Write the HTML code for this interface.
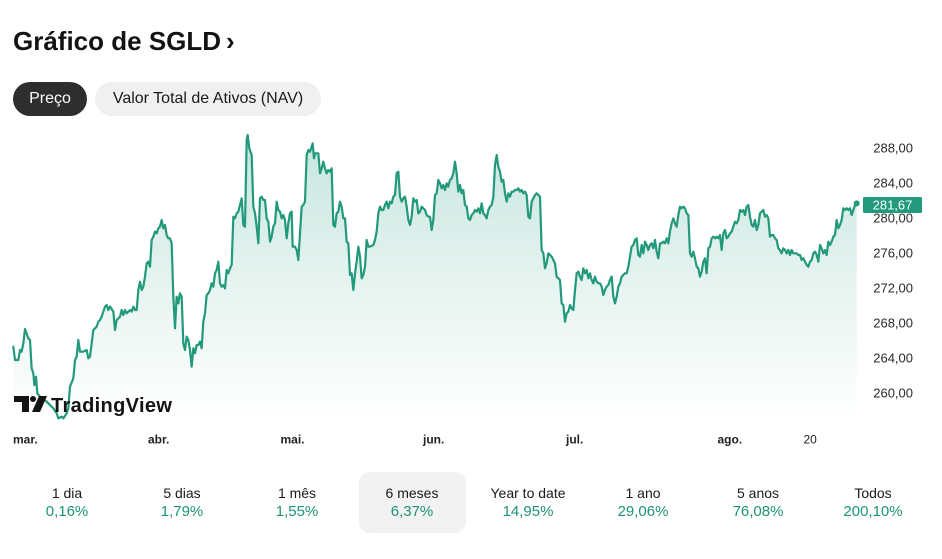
<!DOCTYPE html>
<html><head><meta charset="utf-8"><style>
html,body{margin:0;padding:0;background:#fff;}
body{width:942px;height:559px;overflow:hidden;position:relative;font-family:"Liberation Sans",Arial,sans-serif;color:#131313;}
.title{position:absolute;left:13px;top:24px;font-size:26px;font-weight:bold;letter-spacing:0;white-space:nowrap;line-height:34px;}
.pill{position:absolute;top:82px;height:34px;border-radius:17px;font-size:16px;line-height:34px;text-align:center;white-space:nowrap;}
.p1{left:13px;width:74px;background:#2e2e2e;color:#fff;}
.p2{left:95px;width:226px;background:#f0f0f0;color:#1a1a1a;}
.lab{position:absolute;font-size:14px;color:#1a1a1a;white-space:nowrap;transform:translateX(-50%);top:485px;}
.pct{position:absolute;font-size:15px;color:#1d9477;white-space:nowrap;transform:translateX(-50%);top:503px;}
svg{position:absolute;left:0;top:0;}
</style></head><body>
<div class="title">Gráfico de SGLD<span style="margin-left:5px;">›</span></div>
<div class="pill p1">Preço</div>
<div class="pill p2">Valor Total de Ativos (NAV)</div>

<svg width="942" height="559" viewBox="0 0 942 559" xmlns="http://www.w3.org/2000/svg">
<defs>
<linearGradient id="g" gradientUnits="userSpaceOnUse" x1="0" y1="0" x2="0" y2="870">
<stop offset="0" stop-color="#22997b" stop-opacity="0.26"/>
<stop offset="0.5" stop-color="#22997b" stop-opacity="0.12"/>
<stop offset="1" stop-color="#22997b" stop-opacity="0"/>
</linearGradient>
</defs>
<g transform="translate(0,130) scale(0.33333)">
<path fill="url(#g)" stroke="none" d="M40,650 L45,690 L55,690 L60,660 L65,665 L70,640 L75,597 L85,625 L90,630 L95,715 L100,730 L103,765 L108,740 L112,790 L120,800 L140,815 L150,825 L160,835 L170,850 L175,865 L185,860 L190,865 L200,850 L205,835 L210,770 L220,745 L225,690 L230,680 L235,630 L240,665 L250,665 L260,660 L265,685 L270,680 L275,640 L280,600 L285,595 L290,590 L295,575 L300,570 L305,560 L315,530 L320,525 L325,540 L330,530 L340,545 L345,600 L350,570 L360,560 L365,540 L370,555 L375,540 L380,550 L385,545 L390,540 L395,545 L400,530 L405,540 L410,540 L415,480 L420,455 L425,480 L430,470 L435,440 L440,400 L445,395 L450,410 L455,330 L460,320 L465,305 L470,310 L475,295 L480,290 L485,270 L490,295 L495,285 L500,315 L505,325 L510,325 L515,340 L520,500 L525,595 L530,500 L535,520 L540,490 L545,500 L550,640 L555,660 L560,620 L565,630 L570,660 L575,710 L580,655 L585,670 L590,645 L595,645 L600,635 L605,655 L610,575 L615,550 L620,495 L625,490 L630,480 L635,460 L640,470 L645,430 L650,420 L655,395 L660,460 L665,470 L670,465 L675,475 L680,420 L685,430 L690,415 L695,405 L700,260 L705,265 L710,250 L715,245 L720,225 L725,205 L730,285 L735,290 L740,30 L743,15 L748,55 L755,75 L760,230 L765,250 L770,290 L775,340 L780,205 L785,200 L790,210 L795,210 L800,265 L805,275 L810,335 L815,320 L820,290 L825,280 L830,215 L835,240 L840,245 L845,265 L850,255 L855,270 L860,325 L865,280 L870,250 L875,245 L878,350 L885,350 L890,360 L895,390 L905,230 L910,225 L915,215 L920,75 L925,60 L930,65 L935,50 L938,40 L942,85 L945,70 L950,70 L955,70 L960,130 L965,115 L970,95 L975,115 L980,130 L985,120 L990,125 L995,115 L1000,285 L1005,290 L1010,250 L1015,245 L1020,215 L1025,230 L1030,265 L1035,265 L1040,335 L1045,340 L1050,435 L1055,430 L1060,480 L1065,430 L1070,395 L1075,350 L1080,380 L1085,445 L1090,435 L1095,410 L1100,330 L1105,350 L1110,350 L1120,345 L1125,330 L1130,305 L1135,250 L1140,230 L1145,240 L1150,240 L1155,225 L1160,215 L1165,235 L1170,215 L1175,220 L1180,200 L1185,195 L1190,130 L1195,125 L1200,200 L1205,215 L1210,205 L1215,200 L1220,230 L1225,270 L1230,285 L1235,260 L1240,205 L1245,215 L1250,210 L1255,250 L1260,245 L1265,230 L1270,235 L1275,240 L1280,255 L1285,260 L1290,260 L1295,300 L1300,270 L1305,195 L1310,190 L1315,150 L1320,160 L1325,175 L1330,165 L1335,180 L1340,160 L1345,170 L1350,150 L1355,145 L1360,130 L1365,95 L1370,130 L1375,185 L1380,165 L1385,190 L1390,180 L1395,225 L1400,230 L1405,265 L1410,270 L1415,255 L1420,250 L1425,240 L1430,245 L1435,235 L1440,250 L1445,220 L1450,250 L1455,255 L1460,265 L1465,240 L1470,230 L1475,225 L1480,200 L1485,105 L1490,75 L1495,110 L1500,125 L1505,155 L1510,150 L1515,190 L1520,215 L1525,190 L1530,200 L1535,185 L1540,185 L1545,180 L1550,180 L1555,175 L1560,185 L1565,180 L1570,190 L1575,185 L1580,195 L1585,260 L1590,265 L1595,215 L1600,205 L1605,195 L1610,190 L1615,195 L1620,200 L1625,360 L1630,370 L1635,415 L1640,400 L1645,370 L1650,375 L1655,380 L1660,390 L1665,400 L1670,440 L1675,445 L1680,450 L1685,520 L1690,525 L1695,575 L1700,550 L1705,545 L1710,525 L1715,535 L1720,540 L1725,480 L1730,430 L1735,425 L1740,440 L1745,450 L1750,415 L1755,430 L1760,420 L1765,445 L1770,430 L1775,450 L1780,460 L1785,440 L1790,455 L1795,460 L1800,460 L1805,470 L1810,495 L1815,480 L1820,470 L1825,465 L1830,450 L1835,440 L1840,500 L1845,520 L1850,500 L1855,470 L1860,460 L1865,440 L1870,435 L1875,430 L1880,430 L1885,410 L1890,380 L1895,350 L1900,345 L1905,330 L1910,325 L1915,375 L1920,380 L1925,345 L1930,370 L1935,335 L1940,345 L1945,360 L1950,345 L1955,340 L1960,355 L1965,330 L1970,365 L1975,385 L1980,340 L1985,340 L1990,335 L1995,340 L2000,325 L2005,340 L2010,305 L2015,280 L2020,265 L2025,280 L2030,290 L2035,255 L2040,230 L2045,235 L2050,230 L2055,235 L2060,250 L2065,255 L2070,370 L2075,380 L2080,365 L2085,385 L2090,410 L2095,415 L2100,440 L2105,425 L2110,395 L2115,385 L2120,430 L2125,355 L2130,350 L2135,325 L2140,320 L2145,325 L2150,320 L2155,325 L2160,315 L2165,360 L2170,310 L2175,300 L2180,325 L2185,320 L2190,310 L2195,305 L2200,290 L2205,275 L2210,280 L2215,270 L2220,240 L2225,245 L2230,240 L2235,255 L2240,230 L2245,225 L2250,260 L2255,285 L2260,290 L2265,270 L2270,300 L2275,285 L2280,250 L2285,245 L2290,240 L2295,260 L2300,255 L2305,265 L2310,320 L2315,315 L2320,315 L2325,325 L2330,330 L2335,355 L2340,360 L2345,370 L2350,355 L2355,360 L2360,370 L2365,360 L2370,375 L2375,360 L2380,370 L2385,370 L2390,370 L2395,375 L2400,375 L2405,390 L2410,385 L2415,395 L2420,405 L2425,410 L2430,395 L2435,390 L2440,370 L2445,365 L2450,375 L2455,395 L2460,345 L2465,355 L2470,370 L2475,360 L2480,375 L2485,335 L2490,345 L2495,335 L2500,320 L2505,315 L2510,270 L2515,295 L2520,285 L2525,270 L2530,235 L2535,240 L2540,235 L2545,240 L2550,235 L2555,255 L2560,240 L2565,225 L2570,220 L2570,870 L40,870 Z"/>
<path fill="none" stroke="#22997b" stroke-width="6.6" stroke-linejoin="round" stroke-linecap="round" d="M40,650 L45,690 L55,690 L60,660 L65,665 L70,640 L75,597 L85,625 L90,630 L95,715 L100,730 L103,765 L108,740 L112,790 L120,800 L140,815 L150,825 L160,835 L170,850 L175,865 L185,860 L190,865 L200,850 L205,835 L210,770 L220,745 L225,690 L230,680 L235,630 L240,665 L250,665 L260,660 L265,685 L270,680 L275,640 L280,600 L285,595 L290,590 L295,575 L300,570 L305,560 L315,530 L320,525 L325,540 L330,530 L340,545 L345,600 L350,570 L360,560 L365,540 L370,555 L375,540 L380,550 L385,545 L390,540 L395,545 L400,530 L405,540 L410,540 L415,480 L420,455 L425,480 L430,470 L435,440 L440,400 L445,395 L450,410 L455,330 L460,320 L465,305 L470,310 L475,295 L480,290 L485,270 L490,295 L495,285 L500,315 L505,325 L510,325 L515,340 L520,500 L525,595 L530,500 L535,520 L540,490 L545,500 L550,640 L555,660 L560,620 L565,630 L570,660 L575,710 L580,655 L585,670 L590,645 L595,645 L600,635 L605,655 L610,575 L615,550 L620,495 L625,490 L630,480 L635,460 L640,470 L645,430 L650,420 L655,395 L660,460 L665,470 L670,465 L675,475 L680,420 L685,430 L690,415 L695,405 L700,260 L705,265 L710,250 L715,245 L720,225 L725,205 L730,285 L735,290 L740,30 L743,15 L748,55 L755,75 L760,230 L765,250 L770,290 L775,340 L780,205 L785,200 L790,210 L795,210 L800,265 L805,275 L810,335 L815,320 L820,290 L825,280 L830,215 L835,240 L840,245 L845,265 L850,255 L855,270 L860,325 L865,280 L870,250 L875,245 L878,350 L885,350 L890,360 L895,390 L905,230 L910,225 L915,215 L920,75 L925,60 L930,65 L935,50 L938,40 L942,85 L945,70 L950,70 L955,70 L960,130 L965,115 L970,95 L975,115 L980,130 L985,120 L990,125 L995,115 L1000,285 L1005,290 L1010,250 L1015,245 L1020,215 L1025,230 L1030,265 L1035,265 L1040,335 L1045,340 L1050,435 L1055,430 L1060,480 L1065,430 L1070,395 L1075,350 L1080,380 L1085,445 L1090,435 L1095,410 L1100,330 L1105,350 L1110,350 L1120,345 L1125,330 L1130,305 L1135,250 L1140,230 L1145,240 L1150,240 L1155,225 L1160,215 L1165,235 L1170,215 L1175,220 L1180,200 L1185,195 L1190,130 L1195,125 L1200,200 L1205,215 L1210,205 L1215,200 L1220,230 L1225,270 L1230,285 L1235,260 L1240,205 L1245,215 L1250,210 L1255,250 L1260,245 L1265,230 L1270,235 L1275,240 L1280,255 L1285,260 L1290,260 L1295,300 L1300,270 L1305,195 L1310,190 L1315,150 L1320,160 L1325,175 L1330,165 L1335,180 L1340,160 L1345,170 L1350,150 L1355,145 L1360,130 L1365,95 L1370,130 L1375,185 L1380,165 L1385,190 L1390,180 L1395,225 L1400,230 L1405,265 L1410,270 L1415,255 L1420,250 L1425,240 L1430,245 L1435,235 L1440,250 L1445,220 L1450,250 L1455,255 L1460,265 L1465,240 L1470,230 L1475,225 L1480,200 L1485,105 L1490,75 L1495,110 L1500,125 L1505,155 L1510,150 L1515,190 L1520,215 L1525,190 L1530,200 L1535,185 L1540,185 L1545,180 L1550,180 L1555,175 L1560,185 L1565,180 L1570,190 L1575,185 L1580,195 L1585,260 L1590,265 L1595,215 L1600,205 L1605,195 L1610,190 L1615,195 L1620,200 L1625,360 L1630,370 L1635,415 L1640,400 L1645,370 L1650,375 L1655,380 L1660,390 L1665,400 L1670,440 L1675,445 L1680,450 L1685,520 L1690,525 L1695,575 L1700,550 L1705,545 L1710,525 L1715,535 L1720,540 L1725,480 L1730,430 L1735,425 L1740,440 L1745,450 L1750,415 L1755,430 L1760,420 L1765,445 L1770,430 L1775,450 L1780,460 L1785,440 L1790,455 L1795,460 L1800,460 L1805,470 L1810,495 L1815,480 L1820,470 L1825,465 L1830,450 L1835,440 L1840,500 L1845,520 L1850,500 L1855,470 L1860,460 L1865,440 L1870,435 L1875,430 L1880,430 L1885,410 L1890,380 L1895,350 L1900,345 L1905,330 L1910,325 L1915,375 L1920,380 L1925,345 L1930,370 L1935,335 L1940,345 L1945,360 L1950,345 L1955,340 L1960,355 L1965,330 L1970,365 L1975,385 L1980,340 L1985,340 L1990,335 L1995,340 L2000,325 L2005,340 L2010,305 L2015,280 L2020,265 L2025,280 L2030,290 L2035,255 L2040,230 L2045,235 L2050,230 L2055,235 L2060,250 L2065,255 L2070,370 L2075,380 L2080,365 L2085,385 L2090,410 L2095,415 L2100,440 L2105,425 L2110,395 L2115,385 L2120,430 L2125,355 L2130,350 L2135,325 L2140,320 L2145,325 L2150,320 L2155,325 L2160,315 L2165,360 L2170,310 L2175,300 L2180,325 L2185,320 L2190,310 L2195,305 L2200,290 L2205,275 L2210,280 L2215,270 L2220,240 L2225,245 L2230,240 L2235,255 L2240,230 L2245,225 L2250,260 L2255,285 L2260,290 L2265,270 L2270,300 L2275,285 L2280,250 L2285,245 L2290,240 L2295,260 L2300,255 L2305,265 L2310,320 L2315,315 L2320,315 L2325,325 L2330,330 L2335,355 L2340,360 L2345,370 L2350,355 L2355,360 L2360,370 L2365,360 L2370,375 L2375,360 L2380,370 L2385,370 L2390,370 L2395,375 L2400,375 L2405,390 L2410,385 L2415,395 L2420,405 L2425,410 L2430,395 L2435,390 L2440,370 L2445,365 L2450,375 L2455,395 L2460,345 L2465,355 L2470,370 L2475,360 L2480,375 L2485,335 L2490,345 L2495,335 L2500,320 L2505,315 L2510,270 L2515,295 L2520,285 L2525,270 L2530,235 L2535,240 L2540,235 L2545,240 L2550,235 L2555,255 L2560,240 L2565,225 L2570,220"/>
</g>
<circle cx="856.7" cy="203.4" r="3" fill="#22997b"/>

<g fill="#131313">
<path d="M14,396 H29 V412 H22 V402 H14 Z"/>
<circle cx="33" cy="399" r="3"/>
<path d="M39,396 H47 L40,412 H32 Z"/>
</g>
<text x="51" y="412" font-family="Liberation Sans, Arial, sans-serif" font-size="20" font-weight="bold" fill="#131313" letter-spacing="0.35">TradingView</text>

<g font-family="Liberation Sans, Arial, sans-serif" font-size="13" fill="#2a2a2a" text-anchor="end">
<text x="913" y="152.7">288,00</text>
<text x="913" y="187.7">284,00</text>
<text x="913" y="222.7">280,00</text>
<text x="913" y="257.7">276,00</text>
<text x="913" y="292.7">272,00</text>
<text x="913" y="327.7">268,00</text>
<text x="913" y="362.7">264,00</text>
<text x="913" y="397.7">260,00</text>
</g>
<rect x="863" y="197" width="59" height="16" rx="1.5" fill="#22997b"/>
<text x="892.5" y="209.7" font-family="Liberation Sans, Arial, sans-serif" font-size="13" fill="#fff" text-anchor="middle">281,67</text>

<g font-family="Liberation Sans, Arial, sans-serif" font-size="12" font-weight="bold" fill="#222">
<text x="13" y="443.5">mar.</text>
<text x="148" y="443.5">abr.</text>
<text x="280.5" y="443.5">mai.</text>
<text x="423" y="443.5">jun.</text>
<text x="566" y="443.5">jul.</text>
<text x="717.5" y="443.5">ago.</text>
<text x="803.5" y="443.5" font-weight="normal">20</text>
</g>
</svg>

<div style="position:absolute;left:359px;top:472px;width:107px;height:61px;background:#f2f2f2;border-radius:11px;"></div>
<div class="lab" style="left:67px;">1 dia</div><div class="pct" style="left:67px;">0,16%</div>
<div class="lab" style="left:182px;">5 dias</div><div class="pct" style="left:182px;">1,79%</div>
<div class="lab" style="left:297px;">1 mês</div><div class="pct" style="left:297px;">1,55%</div>
<div class="lab" style="left:412px;">6 meses</div><div class="pct" style="left:412px;">6,37%</div>
<div class="lab" style="left:528px;">Year to date</div><div class="pct" style="left:528px;">14,95%</div>
<div class="lab" style="left:643px;">1 ano</div><div class="pct" style="left:643px;">29,06%</div>
<div class="lab" style="left:758px;">5 anos</div><div class="pct" style="left:758px;">76,08%</div>
<div class="lab" style="left:873px;">Todos</div><div class="pct" style="left:873px;">200,10%</div>
</body></html>
